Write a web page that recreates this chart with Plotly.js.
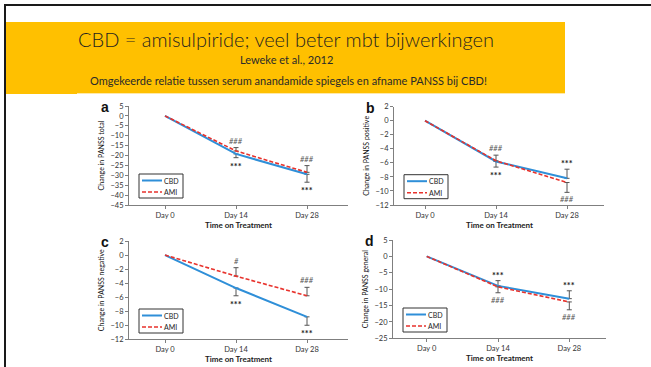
<!DOCTYPE html>
<html><head><meta charset="utf-8">
<script src="https://cdn.plot.ly/plotly-3.0.1.min.js"></script>
<style>html,body{margin:0;padding:0;background:#fff}#chart{width:651px;height:367px}</style>
</head><body><div id="chart"></div>
<script>
// ---------- data ----------
const days = ['Day 0', 'Day 14', 'Day 28'];

// a: PANSS total
const totalCBD = [0, -19.2, -29.5];
const totalAMI = [0, -17.7, -28.5];
const totalCBDUp = [null, 0, 0];
const totalCBDDown = [null, 1.9, 4.0];
const totalAMIUp = [null, 1.7, 3.4];
const totalAMIDown = [null, 0, 0];
const totalCBDSig = ['', '***', '***'];
const totalAMISig = ['', '###', '###'];

// b: PANSS positive
const posCBD = [0, -5.8, -8.2];
const posAMI = [0, -5.7, -8.8];
const posCBDUp = [null, 0, 1.3];
const posCBDDown = [null, 0.8, 0];
const posAMIUp = [null, 0.8, 0];
const posAMIDown = [null, 0, 1.4];
const posCBDSig = ['', '***', '***'];
const posAMISig = ['', '###', '###'];

// c: PANSS negative
const negCBD = [0, -4.7, -8.8];
const negAMI = [0, -3.0, -5.8];
const negCBDUp = [null, 0, 0];
const negCBDDown = [null, 1.1, 1.2];
const negAMIUp = [null, 1.2, 1.2];
const negAMIDown = [null, 0, 0];
const negCBDSig = ['', '***', '***'];
const negAMISig = ['', '#', '###'];

// d: PANSS general
const genCBD = [0, -9.0, -12.9];
const genAMI = [0, -9.3, -13.9];
const genCBDUp = [null, 1.6, 2.4];
const genCBDDown = [null, 0, 0];
const genAMIUp = [null, 0, 0];
const genAMIDown = [null, 1.8, 2.4];
const genCBDSig = ['', '***', '***'];
const genAMISig = ['', '###', '###'];

const seriesNames = ['CBD', 'AMI'];
const panelLetters = ['a', 'b', 'c', 'd'];
const yTitles = ['Change in PANSS total', 'Change in PANSS positive', 'Change in PANSS negative', 'Change in PANSS general'];
const xTitle = 'Time on Treatment';
const slideTitle = 'CBD = amisulpiride; veel beter mbt bijwerkingen';
const slideRef = 'Leweke et al., 2012';
const slideNote = 'Omgekeerde relatie tussen serum anandamide spiegels en afname PANSS bij CBD!';

// ---------- layout config ----------
const W = 651, H = 367;
const X = p => p / W, Y = p => 1 - p / H;
const FONT = 'Lato, "Open Sans", sans-serif';
const CBD_COLOR = '#2f8fd8', AMI_COLOR = '#e8322c', AXIS = '#7f7f7f';

const panels = [
  {box: {l: 129, r: 348, t: 106, b: 205}, d0: 165, step: 71, yr: [-45, 5], dt: 5,
   cbd: totalCBD, ami: totalAMI, cu: totalCBDUp, cd: totalCBDDown, au: totalAMIUp, ad: totalAMIDown, cs: totalCBDSig, as: totalAMISig},
  {box: {l: 394, r: 604, t: 106.7, b: 205}, d0: 425, step: 71, yr: [-12, 2], dt: 2,
   cbd: posCBD, ami: posAMI, cu: posCBDUp, cd: posCBDDown, au: posAMIUp, ad: posAMIDown, cs: posCBDSig, as: posAMISig},
  {box: {l: 129, r: 348, t: 241, b: 339.3}, d0: 165, step: 71, yr: [-12, 2], dt: 2,
   cbd: negCBD, ami: negAMI, cu: negCBDUp, cd: negCBDDown, au: negAMIUp, ad: negAMIDown, cs: negCBDSig, as: negAMISig},
  {box: {l: 393, r: 606, t: 240, b: 338.3}, d0: 426.7, step: 71.3, yr: [-25, 5], dt: 5,
   cbd: genCBD, ami: genAMI, cu: genCBDUp, cd: genCBDDown, au: genAMIUp, ad: genAMIDown, cs: genCBDSig, as: genAMISig}
];

const nanify = a => a.map(v => (v === null ? NaN : v));

const traces = [];
const shapes = [];
const annotations = [];
const layout = {
  width: W, height: H, margin: {l: 0, r: 0, t: 0, b: 0},
  paper_bgcolor: '#ffffff', plot_bgcolor: 'rgba(0,0,0,0)',
  showlegend: false, font: {family: FONT, color: '#222'}
};

// slide decoration
shapes.push({type: 'rect', xref: 'paper', yref: 'paper', x0: X(6), x1: X(565), y0: Y(94), y1: Y(22),
  fillcolor: '#FFC000', line: {width: 0}, layer: 'below'});
shapes.push({type: 'line', xref: 'paper', yref: 'paper', x0: X(77), x1: X(565), y0: Y(93.5), y1: Y(93.5),
  line: {color: '#ffe9a8', width: 1}});
shapes.push({type: 'line', xref: 'paper', yref: 'paper', x0: X(4), x1: X(651), y0: Y(5), y1: Y(5),
  line: {color: '#1a1a1a', width: 2}});
shapes.push({type: 'line', xref: 'paper', yref: 'paper', x0: X(5), x1: X(5), y0: Y(4), y1: Y(367),
  line: {color: '#1a1a1a', width: 2}});

annotations.push({text: slideTitle, xref: 'paper', yref: 'paper', x: X(286), y: Y(39), showarrow: false,
  xanchor: 'center', yanchor: 'middle', font: {family: FONT, size: 20, color: '#1f1f1f', weight: 300}});
annotations.push({text: slideRef, xref: 'paper', yref: 'paper', x: X(286), y: Y(60), showarrow: false,
  xanchor: 'center', yanchor: 'middle', font: {family: FONT, size: 11, color: '#2a2a2a'}});
annotations.push({text: slideNote, xref: 'paper', yref: 'paper', x: X(288), y: Y(80.5), showarrow: false,
  xanchor: 'center', yanchor: 'middle', font: {family: FONT, size: 11, color: '#2a2a2a'}});

panels.forEach((p, i) => {
  const n = i + 1;
  const xa = 'xaxis' + (n === 1 ? '' : n), ya = 'yaxis' + (n === 1 ? '' : n);
  const xr = 'x' + (n === 1 ? '' : n), yr = 'y' + (n === 1 ? '' : n);
  const b = p.box;
  layout[xa] = {
    domain: [X(b.l), X(b.r)], anchor: yr, type: 'category',
    range: [(b.l - p.d0) / p.step, (b.r - p.d0) / p.step],
    showline: true, linecolor: AXIS, linewidth: 1, ticks: 'outside', ticklen: 3, tickcolor: AXIS,
    showgrid: false, zeroline: false, fixedrange: true,
    tickfont: {family: FONT, size: 7.5, color: '#333'}
  };
  layout[ya] = {
    domain: [Y(b.b), Y(b.t)], anchor: xr, range: p.yr, dtick: p.dt,
    showline: true, linecolor: AXIS, linewidth: 1, ticks: 'outside', ticklen: 3, tickcolor: AXIS,
    showgrid: false, zeroline: false, fixedrange: true,
    tickfont: {family: FONT, size: 7.5, color: '#333'},
    title: {text: yTitles[i], standoff: 4, font: {family: FONT, size: 7, color: '#111'}}
  };
  // x-axis title placed under the tick labels
  annotations.push({text: xTitle, xref: 'paper', yref: 'paper', x: X((b.l + b.r) / 2), y: Y(b.b + 19.5),
    showarrow: false, xanchor: 'center', yanchor: 'middle', borderpad: 0,
    font: {family: FONT, size: 8, color: '#222', weight: 'bold'}});

  const err = (up, down) => ({type: 'data', symmetric: false, array: nanify(up), arrayminus: nanify(down),
    color: '#555', thickness: 1, width: 2.5});
  traces.push({type: 'scatter', mode: 'lines', x: days, y: p.cbd, xaxis: xr, yaxis: yr, name: seriesNames[0],
    line: {color: CBD_COLOR, width: 2}, error_y: err(p.cu, p.cd), hoverinfo: 'skip'});
  traces.push({type: 'scatter', mode: 'lines', x: days, y: p.ami, xaxis: xr, yaxis: yr, name: seriesNames[1],
    line: {color: AMI_COLOR, width: 1.6, dash: '4px,2px'}, error_y: err(p.au, p.ad), hoverinfo: 'skip'});

  // significance marks at ends of error bars
  const addSig = (vals, up, down, sig, isCBD) => {
    vals.forEach((v, j) => {
      if (!sig[j]) return;
      const goesUp = up[j] > 0;
      const yv = goesUp ? v + up[j] : v - down[j];
      annotations.push({text: sig[j], xref: xr, yref: yr, x: days[j], y: yv, showarrow: false,
        xanchor: 'center', yanchor: goesUp ? 'bottom' : 'top',
        yshift: isCBD ? (goesUp ? -2 : -1) : (goesUp ? 0 : -1),
        font: isCBD ? {family: FONT, size: 9, color: '#222', weight: 'bold'}
                    : {family: FONT, size: 7.5, color: '#555', style: 'italic'}});
    });
  };
  addSig(p.cbd, p.cu, p.cd, p.cs, true);
  addSig(p.ami, p.au, p.ad, p.as, false);

  // panel letter
  annotations.push({text: panelLetters[i], xref: 'paper', yref: 'paper', x: X(b.l - 24), y: Y(b.t + 1),
    showarrow: false, xanchor: 'center', yanchor: 'middle',
    font: {family: 'Liberation Sans, Arial, sans-serif', size: 14, color: '#111', weight: 'bold'}});

  // manual legend box
  const lx = b.l + 10, ly = b.t + 68;
  shapes.push({type: 'rect', xref: 'paper', yref: 'paper', x0: X(lx), x1: X(lx + 44), y0: Y(ly + 24), y1: Y(ly),
    line: {color: '#333', width: 1}, fillcolor: '#fff'});
  shapes.push({type: 'line', xref: 'paper', yref: 'paper', x0: X(lx + 3), x1: X(lx + 23), y0: Y(ly + 6.5), y1: Y(ly + 6.5),
    line: {color: CBD_COLOR, width: 2}});
  shapes.push({type: 'line', xref: 'paper', yref: 'paper', x0: X(lx + 3), x1: X(lx + 23), y0: Y(ly + 18), y1: Y(ly + 18),
    line: {color: AMI_COLOR, width: 1.6, dash: '4px,2px'}});
  annotations.push({text: seriesNames[0], xref: 'paper', yref: 'paper', x: X(lx + 24), y: Y(ly + 6.5), showarrow: false,
    xanchor: 'left', yanchor: 'middle', borderpad: 0, font: {family: FONT, size: 7, color: '#222'}});
  annotations.push({text: seriesNames[1], xref: 'paper', yref: 'paper', x: X(lx + 24), y: Y(ly + 18), showarrow: false,
    xanchor: 'left', yanchor: 'middle', borderpad: 0, font: {family: FONT, size: 7, color: '#222'}});
});

layout.shapes = shapes;
layout.annotations = annotations;
Plotly.newPlot('chart', traces, layout, {staticPlot: true, displayModeBar: false});
</script></body></html>
